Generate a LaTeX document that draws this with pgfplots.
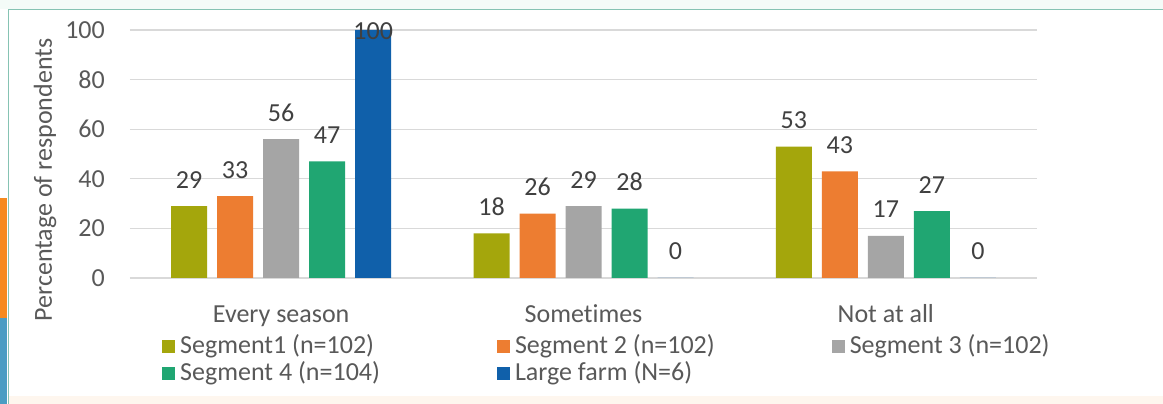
\documentclass[border=0pt]{standalone}
\usepackage{pgfplots}
\pgfplotsset{compat=1.18}
\usepackage{fontspec}
\setmainfont{Carlito}[Ligatures=NoCommon]
\definecolor{cOlive}{HTML}{A4A60C}
\definecolor{cOrange}{HTML}{ED7D31}
\definecolor{cGray}{HTML}{A5A5A5}
\definecolor{cGreen}{HTML}{20A672}
\definecolor{cBlue}{HTML}{1060AA}
\definecolor{axtxt}{HTML}{595959}
\definecolor{lbltxt}{HTML}{404040}
\definecolor{gridc}{HTML}{D9D9D9}
\definecolor{framec}{HTML}{86C3B3}
\definecolor{mintbg}{HTML}{F4FBF8}
\definecolor{peach}{HTML}{FEF6EE}
\definecolor{sideorange}{HTML}{F68A1F}
\definecolor{sideblue}{HTML}{4A9DC3}
\newcommand\chartfont{\fontsize{26pt}{30pt}\selectfont}
\begin{document}
\begin{tikzpicture}
\useasboundingbox (0,0) rectangle (1163pt,404pt);
\fill[white] (0,0) rectangle (1163pt,404pt);
\fill[mintbg] (0,395pt) rectangle (1163pt,404pt);
\fill[peach] (9pt,0) rectangle (1163pt,8pt);
\draw[framec, line width=1.5pt] (8.5pt,0) -- (8.5pt,394.5pt) -- (1163pt,394.5pt);
\fill[sideorange] (0,86pt) rectangle (7pt,206pt);
\fill[sideblue] (0,0) rectangle (7pt,86pt);
\begin{axis}[
  at={(130pt,126pt)}, anchor=south west,
  scale only axis, width=907pt, height=248pt,
  xmin=-0.5, xmax=2.5, ymin=0, ymax=100,
  ybar=10pt, bar width=36pt,
  clip=false,
  xtick={0,1,2}, xticklabels={Every season, Somet{\kern0pt}imes, Not at all},
  ytick={0,20,40,60,80,100},
  ymajorgrids, grid style={gridc, line width=1.2pt},
  axis line style={draw=none},
  major tick length=0pt, tick style={draw=none},
  tick label style={font=\chartfont, text=axtxt},
  /pgf/number format/assume math mode=true,
  yticklabel style={anchor=east, inner sep=0pt, xshift=-25pt},
  xticklabel style={anchor=base, inner sep=0pt, yshift=-45pt},
  ylabel={Percentage of respondents},
  ylabel style={at={(axis description cs:-0.086,0.395)}, anchor=base, font=\chartfont, text=axtxt, inner sep=0pt},
  nodes near coords,
  every node near coord/.append style={font=\chartfont, text=lbltxt, anchor=base, inner sep=0pt, yshift=18pt},
  legend columns=3,
  legend image code/.code={\fill[#1] (0pt,0pt) rectangle (13pt,13pt);},
  legend style={at={(axis description cs:0.0353,-0.2298)}, anchor=north west, draw=none, fill=none, inner sep=0pt, row sep=3pt, font=\chartfont, text=axtxt,
    cells={anchor=base west},
    nodes={inner sep=0pt, text height=18pt, text depth=6pt, font=\chartfont, text=axtxt},
    /tikz/every odd column/.append style={column sep=5pt},
    /tikz/every even column/.append style={column sep=117pt}},
]
\addplot[fill=cOlive, draw=none] coordinates {(0,29) (1,18) (2,53)};
\addlegendentry{Segment1 (n=102)}
\addplot[fill=cOrange, draw=none] coordinates {(0,33) (1,26) (2,43)};
\addlegendentry{Segment 2 (n=102)}
\addplot[fill=cGray, draw=none] coordinates {(0,56) (1,29) (2,17)};
\addlegendentry{Segment 3 (n=102)}
\addplot[fill=cGreen, draw=none] coordinates {(0,47) (1,28) (2,27)};
\addlegendentry{Segment 4 (n=104)}
\addplot[fill=cBlue, draw=none,
  visualization depends on={value \thisrow{dy}\as\dy},
  every node near coord/.append style={yshift=\dy pt}]
  table[row sep=\\] {x y dy\\ 0 100 -28\\ 1 0 0\\ 2 0 0\\};
\addlegendentry{Large farm (N=6)}
\end{axis}
\end{tikzpicture}
\end{document}
